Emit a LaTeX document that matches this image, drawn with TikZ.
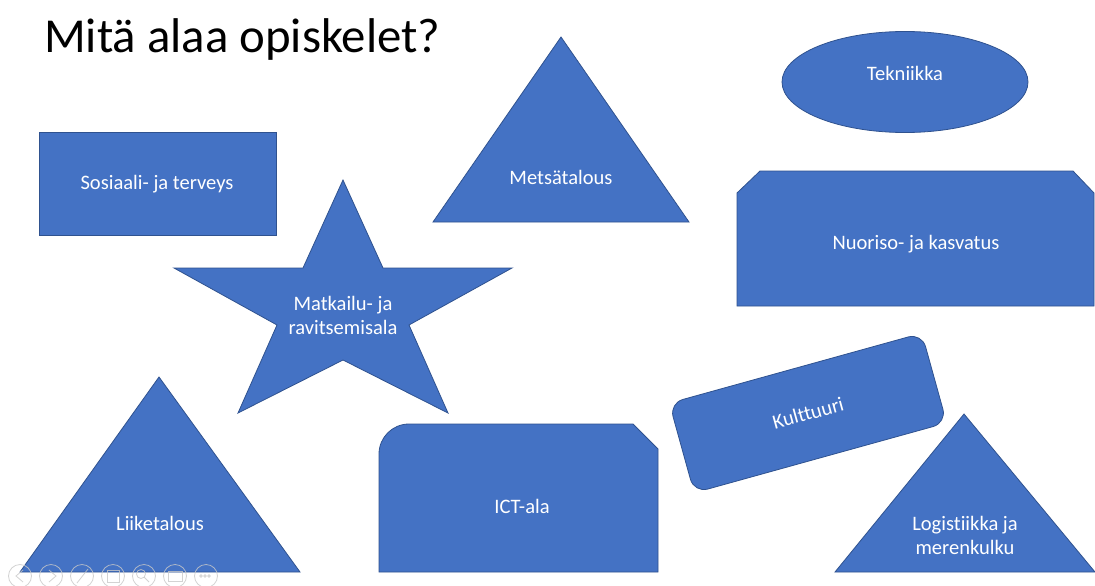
\documentclass[tikz,border=0pt]{standalone}
\usepackage{fontspec}
\setmainfont{Carlito}[Ligatures=NoCommon]
\usetikzlibrary{shapes.geometric}
\definecolor{shapeblue}{RGB}{68,114,196}
\definecolor{shapeedge}{RGB}{47,82,143}
\definecolor{navgray}{RGB}{200,200,200}
\begin{document}
\begin{tikzpicture}[x=0.75pt,y=-0.75pt]
  \tikzstyle{blueshape}=[fill=shapeblue, draw=shapeedge, line width=0.6pt]
  \tikzstyle{lbl}=[text=white, font=\fontsize{15.4}{18}\selectfont, align=center, inner sep=0pt]
  \tikzstyle{nav}=[draw=navgray, line width=0.6pt, opacity=0.8]

  \useasboundingbox (0,0) rectangle (1095,585);
  \fill[white] (0,0) rectangle (1095,585);

  \node[anchor=base west, inner sep=0pt, font=\fontsize{36.6}{40}\selectfont] (title) at (44,53) {Mitä alaa opiskelet?};

  % muodot
  \draw[blueshape] (39,132) rectangle (276,235);
  \node[lbl] (sote) at (157,184) {Sosiaali- ja terveys};

  \draw[blueshape] (561,37) -- (689,222) -- (433,222) -- cycle;
  \node[lbl] (metsa) at (561,177) {Metsätalous};

  \node[blueshape, ellipse, minimum width=246*0.75pt, minimum height=101*0.75pt] (tekn) at (905,82) {};
  \node[lbl] (tekntxt) at (905,73) {Tekniikka};

  \draw[blueshape] (737,306) -- (737,193) -- (760,171) -- (1073,171) -- (1094,193) -- (1094,306) -- cycle;
  \node[lbl] (nuoriso) at (916,244) {Nuoriso- ja kasvatus};

  \draw[blueshape] (343,180) -- (383,268) -- (512,268) -- (409,325) -- (448,413) -- (343,360)
    -- (238,413) -- (277,325) -- (174,268) -- (303,268) -- cycle;
  \node[lbl] (matkailu) at (343,315) {Matkailu- ja\\ravitsemisala};

  \draw[blueshape] (20,572) -- (159,377) -- (300,572) -- cycle;
  \node[lbl] (liike) at (160,523) {Liiketalous};

  \draw[blueshape] (379,572) -- (379,454) arc (180:270:30) -- (633,424) -- (658,449) -- (658,572) -- cycle;
  \node[lbl] (ict) at (522,506) {ICT-ala};

  \node[blueshape, lbl, rounded corners=14*0.75pt, minimum width=262*0.75pt, minimum height=93*0.75pt, rotate=15.5] (kult) at (808,413) {Kulttuuri};

  \draw[blueshape] (835,572) -- (964,414) -- (1095,572) -- cycle;
  \node[lbl] (logi) at (965,535) {Logistiikka ja\\merenkulku};

  % esityksen painikkeet
  \foreach \i in {0,...,6}
    \draw[nav] (20+31*\i,576) circle (11.5);
  \draw[nav] (23,570) -- (16,576) -- (23,582);
  \draw[nav] (49,570) -- (56,576) -- (49,582);
  \draw[nav] (77,583) -- (88,569);
  \draw[nav] (107,570) rectangle (119,582);
  \draw[nav] (141,574) circle (4.5);
  \draw[nav] (144,577) -- (149,582);
  \draw[nav] (168,571) rectangle (182,581);
  \foreach \j in {-4,0,4}
    \draw[nav] (205+\j,576) circle (1.3);
\end{tikzpicture}
\end{document}
